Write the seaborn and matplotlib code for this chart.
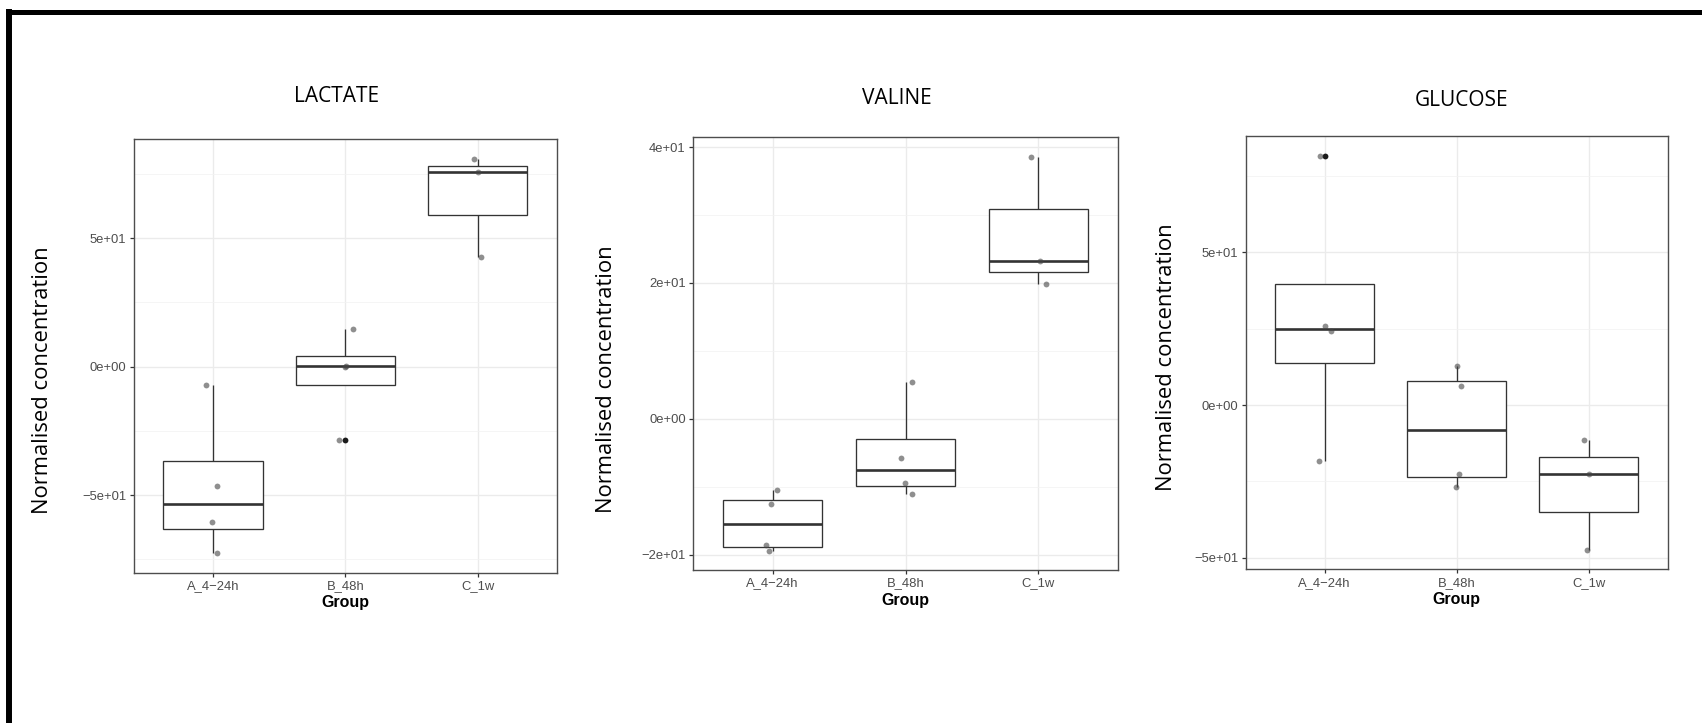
import numpy as np
import pandas as pd
import seaborn as sns
import matplotlib
matplotlib.use("Agg")
import matplotlib.pyplot as plt
from matplotlib.lines import Line2D
from matplotlib.ticker import FixedLocator, FuncFormatter

# ---- data -------------------------------------------------------------
groups = ["A_4\u221224h", "B_48h", "C_1w"]

lactate_a = [-7.2, -46.4, -60.3, -72.5]
lactate_b = [14.7, 0.4, 0.0, -28.4]
lactate_c = [80.9, 75.7, 42.8]

valine_a = [-10.5, -12.5, -18.6, -19.4]
valine_b = [5.4, -5.7, -9.45, -11.0]
valine_c = [38.6, 23.2, 19.9]

glucose_a = [81.7, 25.8, 24.3, -18.4]
glucose_b = [12.8, 6.3, -22.5, -27.0]
glucose_c = [-11.3, -22.5, -47.4]

titles = ["LACTATE", "VALINE", "GLUCOSE"]
major_ticks = [[-50, 0, 50], [-20, 0, 20, 40], [-50, 0, 50]]
minor_ticks = [[-75, -25, 25, 75], [-10, 10, 30], [-25, 25, 75]]

panels = [
    [lactate_a, lactate_b, lactate_c],
    [valine_a, valine_b, valine_c],
    [glucose_a, glucose_b, glucose_c],
]

# ---- layout (pixels on a 1702 x 723 canvas) -------------------------------
W, H = 1702, 723
axes_px = [  # left, top, right, bottom
    (133.6, 139.2, 557.2, 572.6),
    (692.9, 136.9, 1118.2, 570.3),
    (1245.5, 136.0, 1667.9, 569.4),
]
title_px = [(336.8, 96.8), (897.0, 98.2), (1461.5, 100.5)]
ylabel_px = [(43.0, 380.0), (606.0, 379.0), (1167.0, 357.0)]

TICK_FONT = "Liberation Sans"
TEXT_FONT = "Open Sans"
DARK = "#333333"


def sci(v, _pos):
    s = f"{v:.0e}"
    return s.replace("-", "\u2212", 1) if s.startswith("-") else s


fig = plt.figure(figsize=(W / 100, H / 100), dpi=100)
fig.patch.set_facecolor("white")

np.random.seed(7)

for i, (vals, (l, t, r, b)) in enumerate(zip(panels, axes_px)):
    ax = fig.add_axes([l / W, 1 - b / H, (r - l) / W, (b - t) / H])
    df = pd.DataFrame({
        "Group": [g for g, v in zip(groups, vals) for _ in v],
        "value": [x for v in vals for x in v],
    })

    sns.boxplot(
        data=df, x="Group", y="value", order=groups, ax=ax,
        width=0.75, color="white", linecolor=DARK, linewidth=0.95,
        showcaps=False, whis=1.5,
        flierprops=dict(marker="o", markersize=4.2, markerfacecolor="#1a1a1a",
                        markeredgecolor="none"),
        medianprops=dict(color=DARK, linewidth=1.9),
    )
    sns.stripplot(
        data=df, x="Group", y="value", order=groups, ax=ax,
        jitter=0.06, color="#444444", alpha=0.6, size=4.2, linewidth=0,
        zorder=4,
    )

    lo, hi = df["value"].min(), df["value"].max()
    pad = 0.05 * (hi - lo)
    ax.set_ylim(lo - pad, hi + pad)
    ax.set_xlim(-0.6, 2.6)

    ax.yaxis.set_major_locator(FixedLocator(major_ticks[i]))
    ax.yaxis.set_minor_locator(FixedLocator(minor_ticks[i]))
    ax.yaxis.set_major_formatter(FuncFormatter(sci))

    ax.set_axisbelow(True)
    ax.grid(which="major", axis="both", color="#EBEBEB", linewidth=0.95)
    ax.grid(which="minor", axis="y", color="#F2F2F2", linewidth=0.55)
    ax.tick_params(axis="y", which="minor", length=0)
    ax.tick_params(axis="both", which="major", length=2.8, width=0.9,
                   color=DARK, labelcolor="#4D4D4D", labelsize=9.4, pad=2.4)
    for lab in ax.get_xticklabels() + ax.get_yticklabels():
        lab.set_fontfamily(TICK_FONT)

    for sp in ax.spines.values():
        sp.set_visible(True)
        sp.set_color("#4D4D4D")
        sp.set_linewidth(1.0)

    ax.set_ylabel("")
    ax.set_xlabel("Group", fontfamily=TICK_FONT, fontweight="bold",
                  fontsize=11.5, color="black", labelpad=2.5)

    tx, ty = title_px[i]
    fig.text(tx / W, 1 - ty / H, titles[i], ha="center", va="center",
             fontfamily=TEXT_FONT, fontsize=15, color="black")
    lx, ly = ylabel_px[i]
    fig.text(lx / W, 1 - ly / H, "Normalised concentration", ha="center",
             va="center", rotation=90, fontfamily=TEXT_FONT, fontsize=15.8,
             color="black")

# black frame along the top and left edges
fig.add_artist(Line2D([9 / W, 9 / W], [0, 1 - 9 / H], transform=fig.transFigure,
                      color="black", linewidth=4.3, solid_capstyle="butt"))
fig.add_artist(Line2D([6 / W, 1], [1 - 11.5 / H, 1 - 11.5 / H],
                      transform=fig.transFigure, color="black", linewidth=3.6,
                      solid_capstyle="butt"))

fig.savefig("out.png", dpi=100, facecolor="white")
